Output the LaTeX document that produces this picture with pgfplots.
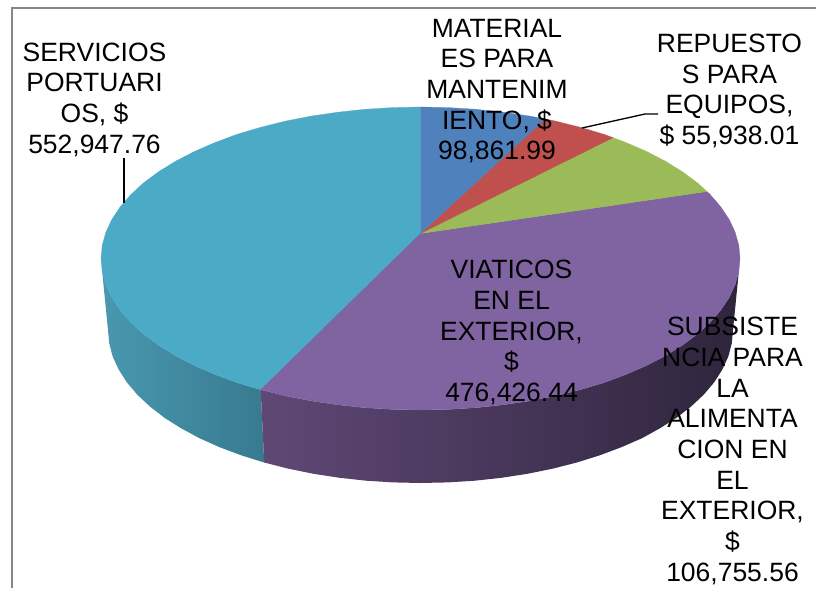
\documentclass[border=0pt]{standalone}
\usepackage{fontspec}
\setmainfont{Liberation Sans}
\usepackage{pgfplots}
\pgfplotsset{compat=1.18}
\definecolor{cblue}{RGB}{79,129,189}
\definecolor{cred}{RGB}{192,80,77}
\definecolor{cgreen}{RGB}{155,187,89}
\definecolor{cpurple}{RGB}{128,100,162}
\definecolor{cteal}{RGB}{75,170,197}
\definecolor{frame}{RGB}{134,134,134}

\begin{document}
\begin{tikzpicture}[lab/.style={font=\fontsize{19.85}{23}\selectfont, align=center, inner sep=0pt, text=black}]
\begin{axis}[
  x=0.75pt, y=0.75pt,
  y dir=reverse,
  xmin=0, xmax=816,
  ymin=0, ymax=588,
  scale only axis,
  axis lines=none,
  ticks=none,
  clip=true,
]
% keeps the page at the full picture size
\addplot[draw=none, mark=none] coordinates {(0,0) (816,588)};

% frame, cut off on the right and at the bottom
\addplot[color=frame, line width=1.5pt, mark=none] coordinates {(11.5,588) (11.5,8.5) (816,8.5)};

% side wall, teal slice
\addplot[draw=none, mark=none, left color={rgb,255:red,72;green,152;blue,175}, right color={rgb,255:red,56;green,122;blue,143}] coordinates {
  (102.2,271.7) (105.9,284.8) (111.9,297.7) (120.3,310.3) (130.9,322.5) (143.8,334.3)
  (158.8,345.4) (175.8,355.9) (194.6,365.6) (215.1,374.5) (236.8,382.6) (260.7,389.7)
  (264.2,462.5) (241.2,455.3) (219.6,447.2) (199.5,438.2) (181.1,428.3) (164.5,417.8)
  (149.9,406.5) (137.3,394.7) (126.8,382.3) (118.7,369.6) (112.7,356.6) (109.2,343.3)
  (108,330) (102.2,271.7)
};

% side wall, purple slice
\addplot[draw=none, mark=none, left color={rgb,255:red,96;green,72;blue,118}, middle color={rgb,255:red,60;green,46;blue,75}, right color={rgb,255:red,46;green,37;blue,60}] coordinates {
  (260.7,389.7) (285,395.8) (311.2,400.9) (337.8,404.8) (365,407.7) (392.6,409.4)
  (420.5,410) (448.4,409.4) (476,407.7) (503.2,404.8) (529.8,400.9) (556,395.8)
  (580.3,389.7) (604.2,382.6) (625.9,374.5) (646.4,365.6) (665.2,355.9) (682.2,345.4)
  (697.2,334.3) (710.1,322.5) (720.7,310.3) (729.1,297.7) (735.1,284.8) (738.8,271.7)
  (733,330) (731.8,343.3) (728.3,356.6) (722.3,369.6) (714.2,382.3) (703.7,394.7)
  (691.1,406.5) (676.5,417.8) (659.9,428.3) (642,438.2) (621.4,447.2) (599.8,455.3)
  (576.8,462.5) (552.6,468.7) (527.4,473.8) (501.4,477.8) (474.8,480.7) (447.8,482.4)
  (420.5,483) (393.2,482.4) (366.2,480.7) (339.6,477.8) (313.6,473.8) (288.4,468.7)
  (264.2,462.5) (260.7,389.7)
};

% top face: teal
\addplot[fill=cteal, draw=cteal, line width=0.2pt, mark=none] coordinates {
  (420.5,233.5) (260.7,389.7) (236.8,382.6) (215.1,374.5) (194.6,365.6) (175.8,355.9)
  (158.8,345.4) (143.8,334.3) (130.9,322.5) (120.3,310.3) (111.9,297.7) (105.9,284.8)
  (102.2,271.7) (101,258.5) (102.2,245.3) (105.9,232.2) (111.9,219.3) (120.3,206.7)
  (130.9,194.5) (143.8,182.7) (158.8,171.6) (175.8,161.1) (194.6,151.4) (215.1,142.5)
  (236.8,134.4) (260.7,127.3) (285,121.2) (311.2,116.1) (337.8,112.2) (365,109.3)
  (392.6,107.6) (420.5,107) (420.5,233.5)
};
% purple
\addplot[fill=cpurple, draw=cpurple, line width=0.2pt, mark=none] coordinates {
  (420.5,233.5) (707,191.5) (710.1,194.5) (720.7,206.7) (729.1,219.3) (735.1,232.2)
  (738.8,245.3) (740,258.5) (738.8,271.7) (735.1,284.8) (729.1,297.7) (720.7,310.3)
  (710.1,322.5) (697.2,334.3) (682.2,345.4) (665.2,355.9) (646.4,365.6) (625.9,374.5)
  (604.2,382.6) (580.3,389.7) (556,395.8) (529.8,400.9) (503.2,404.8) (476,407.7)
  (448.4,409.4) (420.5,410) (392.6,409.4) (365,407.7) (337.8,404.8) (311.2,400.9)
  (285,395.8) (260.7,389.7) (420.5,233.5)
};
% green
\addplot[fill=cgreen, draw=cgreen, line width=0.2pt, mark=none] coordinates {
  (420.5,233.5) (613,137.7) (625.9,142.5) (646.4,151.4) (665.2,161.1) (682.2,171.6)
  (697.2,182.7) (707,191.5) (420.5,233.5)
};
% red
\addplot[fill=cred, draw=cred, line width=0.2pt, mark=none] coordinates {
  (420.5,233.5) (545,119) (556,121.2) (580.3,127.3) (604.2,134.4) (613,137.7) (420.5,233.5)
};
% blue
\addplot[fill=cblue, draw=cblue, line width=0.2pt, mark=none] coordinates {
  (420.5,233.5) (420.5,107) (448.4,107.6) (476,109.3) (503.2,112.2) (529.8,116.1)
  (545,119) (420.5,233.5)
};

% leader lines
\addplot[color=black, line width=1pt, mark=none] coordinates {(124,158) (124,203)};
\addplot[color=black, line width=1pt, mark=none] coordinates {(582,128) (645,114) (658,114)};

% data labels
\node[lab] at (axis cs:94.5,99.5) {SERVICIOS\\PORTUARI\\OS, \$\\552,947.76};
\node[lab] at (axis cs:497,91) {MATERIAL\\ES PARA\\MANTENIM\\IENTO, \$\\98,861.99};
\node[lab] at (axis cs:729.5,91) {REPUESTO\\S PARA\\EQUIPOS,\\\$ 55,938.01};
\node[lab] at (axis cs:511.5,332.5) {VIATICOS\\EN EL\\EXTERIOR,\\\$\\476,426.44};
\node[lab] at (axis cs:732.5,451) {SUBSISTE\\NCIA PARA\\LA\\ALIMENTA\\CION EN\\EL\\EXTERIOR,\\\$\\106,755.56};
\end{axis}
\end{tikzpicture}
\end{document}
